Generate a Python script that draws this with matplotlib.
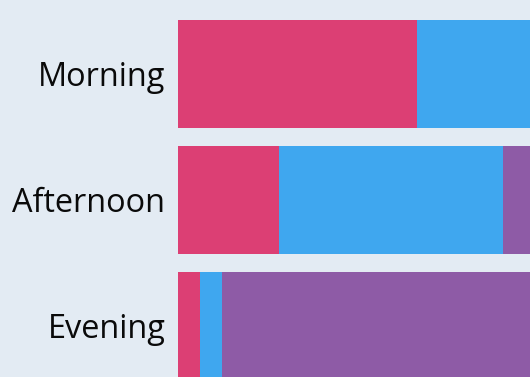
import matplotlib
matplotlib.use('Agg')
import matplotlib.pyplot as plt
import numpy as np

periods = ['Morning', 'Afternoon', 'Evening']
pink = [59.75, 25.25, 5.5]
blue = [40.25, 56, 5.5]
purple = [0, 18.75, 89]

colors = ['#DC3F74', '#3FA7EF', '#8E5BA6']

plt.rcParams['font.family'] = ['Open Sans', 'DejaVu Sans']

fig = plt.figure(figsize=(5.3, 3.77), dpi=100)
fig.patch.set_facecolor('#E3EBF3')
ax = fig.add_axes([178 / 530, 0, 352 / 530, 1])
ax.set_facecolor('#E3EBF3')

y = np.arange(len(periods))
left = np.zeros(len(periods))
for vals, c in zip([pink, blue, purple], colors):
    ax.barh(y, vals, left=left, height=0.857, color=c, linewidth=0)
    left += np.array(vals)

ax.set_xlim(0, 88)
ax.set_ylim(2.405, -0.587)
ax.set_yticks(y)
ax.set_yticklabels(periods, fontsize=23.4, color='#0a0a0a')
ax.tick_params(axis='y', length=0, pad=9)
ax.set_xticks([])
for s in ax.spines.values():
    s.set_visible(False)

fig.savefig('out.png', dpi=100, facecolor=fig.get_facecolor())
